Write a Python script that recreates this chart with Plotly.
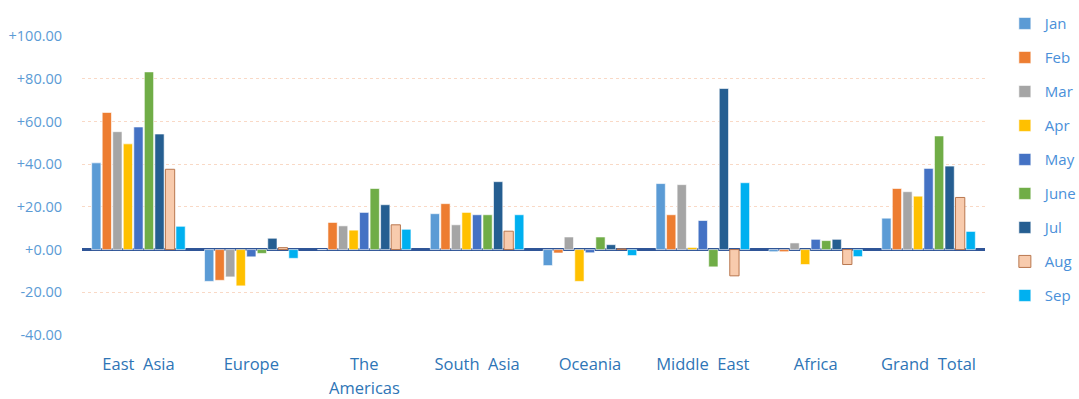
import plotly.graph_objects as go

categories = ["East Asia", "Europe", "The Americas", "South Asia",
              "Oceania", "Middle East", "Africa", "Grand Total"]
tick_labels = ["East\u00a0\u00a0Asia", "Europe", "The", "South\u00a0\u00a0Asia",
               "Oceania", "Middle\u00a0\u00a0East", "Africa", "Grand\u00a0\u00a0Total"]

months = ["Jan", "Feb", "Mar", "Apr", "May", "June", "Jul", "Aug", "Sep"]

jan = [40.6, -14.9, 0.0, 16.8, -7.5, 30.9, -1.0, 14.7]
feb = [64.2, -14.4, 12.7, 21.5, -1.6, 16.3, -1.0, 28.6]
mar = [55.2, -12.8, 11.1, 11.6, 5.9, 30.4, 3.1, 27.1]
apr = [49.5, -17.0, 9.1, 17.4, -14.9, 1.0, -7.0, 25.0]
may = [57.4, -3.4, 17.4, 16.3, -1.5, 13.6, 4.8, 38.0]
june = [83.2, -1.8, 28.6, 16.3, 5.9, -8.1, 4.2, 53.2]
jul = [54.1, 5.3, 21.0, 31.8, 2.3, 75.4, 4.8, 39.1]
aug = [37.6, 0.9, 11.6, 8.6, 0.3, -12.3, -7.0, 24.4]
sep = [10.9, -4.1, 9.5, 16.3, -2.8, 31.3, -3.3, 8.5]

series = [jan, feb, mar, apr, may, june, jul, aug, sep]
colors = ["#5b9bd5", "#ed7d31", "#a5a5a5", "#ffc000", "#4472c4",
          "#70ad47", "#255e91", "#f8cbad", "#00b0f0"]

tick_vals = [-40, -20, 0, 20, 40, 60, 80, 100]
tick_text = ["-40.00", "-20.00", "+0.00", "+20.00", "+40.00", "+60.00", "+80.00", "+100.00"]

fig = go.Figure()
for name, vals, col in zip(months, series, colors):
    line_col = "#b9774f" if name == "Aug" else "rgba(255,255,255,0.6)"
    fig.add_trace(go.Bar(
        x=categories, y=vals, name=name, legendgroup=name,
        marker=dict(color=col, line=dict(color=line_col, width=1)),
    ))

fig.add_annotation(
    x="The Americas", xref="x", y=-0.177, yref="paper", yanchor="middle",
    text="Americas", showarrow=False, borderpad=0,
    font=dict(size=16.5, color="#2e75b6", family="Open Sans, sans-serif"),
)

fig.update_layout(
    width=1079, height=399,
    margin=dict(l=82, r=94, t=36, b=64, autoexpand=False),
    paper_bgcolor="white", plot_bgcolor="white",
    barmode="group", bargap=0.16, bargroupgap=0.12,
    font=dict(family="Open Sans, sans-serif", color="#4a90d9"),
    legend=dict(x=1.022, y=0.982, xanchor="left", yanchor="top", yref="container",
                font=dict(size=15, color="#4a90d9"), maxheight=1,
                tracegroupgap=11.5, bgcolor="rgba(0,0,0,0)"),
    showlegend=True,
)
fig.update_xaxes(
    categoryorder="array", categoryarray=categories,
    tickvals=categories, ticktext=tick_labels,
    showgrid=False, showline=False, ticks="outside", ticklen=14, automargin=False,
    tickcolor="rgba(0,0,0,0)", tickfont=dict(size=16.5, color="#2e75b6"),
)
fig.update_yaxes(
    range=[-40, 100], tickvals=tick_vals, ticktext=tick_text, automargin=False,
    showgrid=True, gridcolor="#f9d9c6", griddash="dot", gridwidth=1,
    zeroline=True, zerolinecolor="#2f5597", zerolinewidth=3,
    ticks="outside", ticklen=16, tickcolor="rgba(0,0,0,0)",
    tickfont=dict(size=14.5, color="#5b9bd5"), showline=False,
)

fig.write_html("out.html")
